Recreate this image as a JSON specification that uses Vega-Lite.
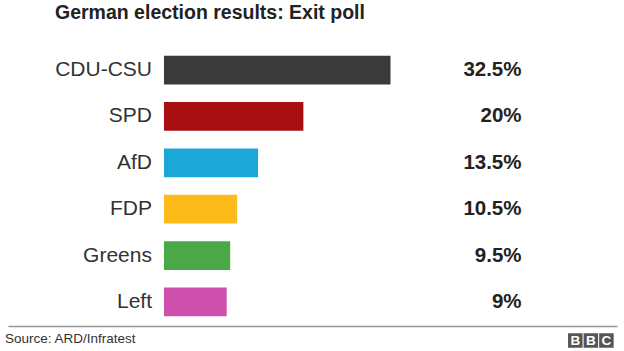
{
  "$schema": "https://vega.github.io/schema/vega-lite/v6.json",
  "padding": {"left": 5, "right": 7, "top": 2, "bottom": 0},
  "background": "white",
  "config": {"view": {"stroke": null}, "font": "Liberation Sans", "concat": {"spacing": 1}},
  "vconcat": [
    {
      "width": 609,
      "height": 278,
      "title": {"text": "German election results: Exit poll", "anchor": "start", "frame": "group", "dx": 47, "fontSize": 19.5, "fontWeight": "bold", "color": "#222222", "offset": 24},
      "data": {"values": [
        {"party": "CDU-CSU", "value": 32.5},
        {"party": "SPD", "value": 20},
        {"party": "AfD", "value": 13.5},
        {"party": "FDP", "value": 10.5},
        {"party": "Greens", "value": 9.5},
        {"party": "Left", "value": 9}
      ]},
      "transform": [{"calculate": "format(datum.value, '.1~f') + '%'", "as": "label"}],
      "encoding": {
        "y": {"field": "party", "type": "nominal", "sort": null, "axis": null, "scale": {"paddingInner": 0.38, "paddingOuter": 0.186}}
      },
      "layer": [
        {
          "mark": {"type": "bar"},
          "encoding": {
            "x": {"field": "value", "type": "quantitative", "scale": {"domain": [-22.38, 65], "nice": false, "zero": false}, "axis": null},
            "x2": {"datum": 0},
            "color": {"field": "party", "type": "nominal", "legend": null, "scale": {"domain": ["CDU-CSU", "SPD", "AfD", "FDP", "Greens", "Left"], "range": ["#3a3a3a", "#a80f12", "#1ba7d7", "#fdbb1a", "#4aa846", "#cf4fad"]}}
          }
        },
        {
          "mark": {"type": "text", "align": "right", "baseline": "middle", "dx": -12, "fontSize": 21, "color": "#333333"},
          "encoding": {"x": {"datum": 0}, "text": {"field": "party"}}
        },
        {
          "mark": {"type": "text", "align": "right", "baseline": "middle", "fontSize": 20.5, "fontWeight": "bold", "color": "#222222"},
          "encoding": {"x": {"datum": 51.3}, "text": {"field": "label"}}
        }
      ]
    },
    {
      "width": 609,
      "height": 25,
      "layer": [
        {
          "data": {"values": [{"source": "Source: ARD/Infratest"}]},
          "mark": {"type": "text", "align": "left", "baseline": "middle", "dx": -3, "fontSize": 13.5, "color": "#333333"},
          "encoding": {
            "x": {"datum": 0, "type": "quantitative", "scale": {"domain": [0, 1]}, "axis": {"orient": "top", "domain": true, "domainColor": "#999999", "domainWidth": 1.5, "ticks": false, "labels": false, "grid": false, "title": null}},
            "y": {"datum": 0.5, "type": "quantitative", "scale": {"domain": [0, 1]}, "axis": null},
            "text": {"field": "source"}
          }
        },
        {
          "data": {"values": [{"letter": "B", "slot": 1}, {"letter": "B", "slot": 2}, {"letter": "C", "slot": 3}]},
          "layer": [
            {
              "mark": {"type": "square", "filled": true, "size": 210, "color": "#555555", "opacity": 1},
              "encoding": {
                "x": {"field": "slot", "type": "ordinal", "scale": {"type": "point", "range": [567.3, 598.4], "padding": 0}, "axis": null},
                "y": {"datum": 0.42, "type": "quantitative"}
              }
            },
            {
              "mark": {"type": "text", "color": "white", "fontWeight": "bold", "fontSize": 13.5, "baseline": "middle", "align": "center", "dy": 0.5},
              "encoding": {
                "x": {"field": "slot", "type": "ordinal", "scale": {"type": "point", "range": [567.3, 598.4], "padding": 0}, "axis": null},
                "y": {"datum": 0.42, "type": "quantitative"},
                "text": {"field": "letter"}
              }
            }
          ]
        }
      ],
      "resolve": {"scale": {"x": "independent"}}
    }
  ]
}
